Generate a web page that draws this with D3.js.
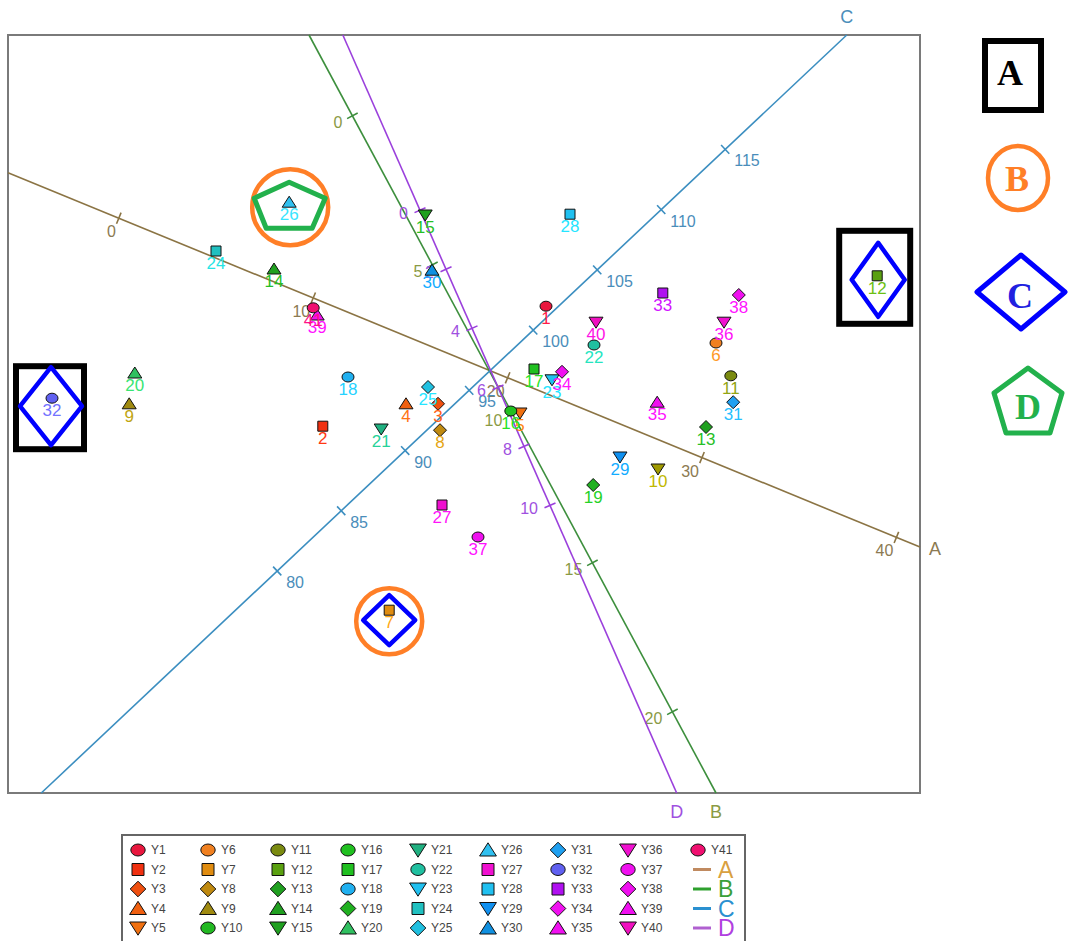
<!DOCTYPE html>
<html>
<head>
<meta charset="utf-8">
<script src="https://cdn.jsdelivr.net/npm/d3@7"></script>
<style>
  body { margin: 0; background: #fff; }
  text { font-family: "Liberation Sans", Arial, sans-serif; }
  text.serif { font-family: "Liberation Serif", "DejaVu Serif", serif; }
</style>
</head>
<body>
<svg id="chart" width="1068" height="941"></svg>
<script>
// biplot scores (origin = where the four axes cross)
const pointNames = ["Y1","Y2","Y3","Y4","Y5","Y6","Y7","Y8","Y9","Y10",
  "Y11","Y12","Y13","Y14","Y15","Y16","Y17","Y18","Y19","Y20",
  "Y21","Y22","Y23","Y24","Y25","Y26","Y27","Y28","Y29","Y30",
  "Y31","Y32","Y33","Y34","Y35","Y36","Y37","Y38","Y39","Y40","Y41"];
const pointX = [0.70, -2.09, -0.65, -1.05, 0.375, 2.825, -1.26, -0.625, -4.51, 2.10,
  3.01, 4.84, 2.70, -2.70, -0.81, 0.26, 0.55, -1.775, 1.29, -4.44,
  -1.36, 1.30, 0.775, -3.425, -0.775, -2.51, -0.60, 1.00, 1.625, -0.725,
  3.04, -5.475, 2.16, 0.90, 2.09, 2.925, -0.15, 3.11, -2.16, 1.325, -2.21];
const pointY = [0.81, -0.69, -0.41, -0.41, -0.525, 0.35, -2.99, -0.74, -0.41, -1.225,
  -0.06, 1.19, -0.70, 1.275, 1.95, -0.50, 0.025, -0.075, -1.425, -0.025,
  -0.725, 0.325, -0.11, 1.50, -0.20, 2.11, -1.675, 1.96, -1.075, 1.26,
  -0.39, -0.34, 0.975, -0.01, -0.39, 0.61, -2.075, 0.95, 0.70, 0.61, 0.79];
const pointShape = ["circle","square","diamond","up","down","circle","square","diamond","up","down",
  "circle","square","diamond","up","down","circle","square","circle","diamond","up",
  "down","circle","down","square","diamond","up","square","square","down","up",
  "diamond","circle","square","diamond","up","down","circle","diamond","up","down","circle"];
const pointColor = ["#e8173e","#f03010","#f05010","#f06010","#f07010","#f08020","#e08c10","#c08a10","#a08a10","#a09a00",
  "#7a8a10","#5aa010","#20a020","#20a020","#20a020","#20c020","#20c020","#20b0f0","#20b020","#30c060",
  "#20b080","#20c0a0","#20c0f0","#20c0c0","#20c0e0","#30c0f0","#f010d0","#20c0f0","#1090f0","#1090e0",
  "#20a0f0","#6060f0","#b010f0","#f010f0","#f010f0","#f010d0","#f010f0","#f010f0","#f010f0","#f010c0","#f01070"];
// the legend draws Y10 differently from the plot
const legendOverride = { Y10: { shape: "circle", color: "#22b822" } };

// calibrated axes: [value, x, y] of two calibration points, plus tick values
const axisNames = ["A", "B", "C", "D"];
const axisCalFrom = [[0, -4.64, 1.91], [0, -1.72, 3.19], [80, -2.66, -2.50], [0, -0.875, 2.01]];
const axisCalTo = [[40, 5.08, -2.08], [20, 2.28, -4.26], [115, 2.94, 2.77], [10, 0.75, -1.68]];
const axisTicks = [[0, 10, 20, 30, 40], [0, 5, 10, 15, 20],
  [80, 85, 90, 95, 100, 105, 110, 115], [0, 2, 4, 6, 8, 10]];

const axisColor = ["#8b7444", "#3d8f3d", "#3b8ec0", "#9b40dc"];
const axisTextColor = ["#8c7a52", "#8a9a44", "#4a8dba", "#a050e0"];
const tickLabelPos = [
  { anchor: "end", dx: -3, dy: 19 },
  { anchor: "end", dx: -10, dy: 12 },
  { anchor: "start", dx: 9, dy: 17 },
  { anchor: "end", dx: -12, dy: 9 }];
const endLabelPos = [
  { anchor: "start", dx: 9, dy: 8 },
  { anchor: "middle", dx: 0, dy: 25 },
  { anchor: "middle", dx: 0, dy: -12 },
  { anchor: "middle", dx: 0, dy: 25 }];
const legendLineColor = ["#c08a60", "#2ea02e", "#2a90d0", "#b060d0"];
const legendLetterColor = ["#d9a040", "#3aa03a", "#2a90d0", "#b040e0"];

const frame = { left: 8, top: 35, right: 920, bottom: 793 };
const x = d3.scaleLinear().domain([-6.025, 5.375]).range([frame.left, frame.right]);
const y = d3.scaleLinear().domain([-5.275, 4.2]).range([frame.bottom, frame.top]);

const svg = d3.select("#chart");

function markerPath(shape, k) {
  switch (shape) {
    case "circle": return `M${-6*k},0a${6*k},${5*k} 0 1,0 ${12*k},0a${6*k},${5*k} 0 1,0 ${-12*k},0Z`;
    case "square": return `M${-5*k},${-5*k}h${10*k}v${10*k}h${-10*k}Z`;
    case "diamond": return `M0,${-6.5*k}L${6.5*k},0L0,${6.5*k}L${-6.5*k},0Z`;
    case "up": return `M0,${-6*k}L${7*k},${5*k}L${-7*k},${5*k}Z`;
    default: return `M${-7*k},${-5*k}L${7*k},${-5*k}L0,${6*k}Z`;
  }
}

svg.append("rect")
  .attr("x", frame.left).attr("y", frame.top)
  .attr("width", frame.right - frame.left).attr("height", frame.bottom - frame.top)
  .attr("fill", "none").attr("stroke", "#7a7a7a").attr("stroke-width", 2);

// axes
axisNames.forEach((name, i) => {
  const [v0, x0, y0] = axisCalFrom[i];
  const [v1, x1, y1] = axisCalTo[i];
  const ax = d3.scaleLinear().domain([v0, v1]).range([x0, x1]);
  const ay = d3.scaleLinear().domain([v0, v1]).range([y0, y1]);
  const px = v => x(ax(v)), py = v => y(ay(v));

  // value range where the axis stays inside the frame
  const vx = x.domain().map(d => ax.invert(d)).sort(d3.ascending);
  const vy = y.domain().map(d => ay.invert(d)).sort(d3.ascending);
  const lo = Math.max(vx[0], vy[0]), hi = Math.min(vx[1], vy[1]);

  const g = svg.append("g").attr("class", "axis-" + name);
  g.append("line")
    .attr("x1", px(lo)).attr("y1", py(lo))
    .attr("x2", px(hi)).attr("y2", py(hi))
    .attr("stroke", axisColor[i]).attr("stroke-width", 1.6);

  const len = Math.hypot(px(v1) - px(v0), py(v1) - py(v0));
  const nx = -(py(v1) - py(v0)) / len, ny = (px(v1) - px(v0)) / len;

  g.selectAll(".tick").data(axisTicks[i]).enter().append("line")
    .attr("x1", d => px(d) - 6 * nx).attr("y1", d => py(d) - 6 * ny)
    .attr("x2", d => px(d) + 6 * nx).attr("y2", d => py(d) + 6 * ny)
    .attr("stroke", axisColor[i]).attr("stroke-width", 1.6);

  g.selectAll(".ticklabel").data(axisTicks[i]).enter().append("text")
    .attr("x", d => px(d) + tickLabelPos[i].dx)
    .attr("y", d => py(d) + tickLabelPos[i].dy)
    .attr("text-anchor", tickLabelPos[i].anchor)
    .attr("font-size", 16)
    .attr("fill", axisTextColor[i])
    .text(d => d);

  g.append("text")
    .attr("x", px(hi) + endLabelPos[i].dx)
    .attr("y", py(hi) + endLabelPos[i].dy)
    .attr("text-anchor", endLabelPos[i].anchor)
    .attr("font-size", 18)
    .attr("fill", axisTextColor[i])
    .text(name);
});

// points
const points = pointNames.map((n, i) => ({
  name: n, x: pointX[i], y: pointY[i], shape: pointShape[i], color: pointColor[i]
}));

const pts = svg.selectAll(".pt").data(points).enter().append("g")
  .attr("class", "pt")
  .attr("transform", d => `translate(${x(d.x)},${y(d.y)})`);

pts.append("path")
  .attr("d", d => markerPath(d.shape, 1))
  .attr("fill", d => d.color)
  .attr("stroke", "#111").attr("stroke-width", 1);

pts.append("text")
  .attr("y", 18)
  .attr("text-anchor", "middle")
  .attr("font-size", 17)
  .attr("fill", d => d3.color(d.color).brighter(0.5))
  .text(d => d.name.slice(1));

// highlight marks around selected points
const byName = Object.fromEntries(points.map(d => [d.name, d]));
const ann = svg.append("g").attr("fill", "none");

function diamond(cx, cy, hw, hh) {
  return `M${cx},${cy - hh}L${cx + hw},${cy}L${cx},${cy + hh}L${cx - hw},${cy}Z`;
}
function pentagon(cx, cy, s) {
  const v = [[0, -25], [36, -9], [23, 21], [-23, 21], [-35, -9]];
  return "M" + v.map(p => [cx + p[0] * s, cy + p[1] * s].join(",")).join("L") + "Z";
}

[["Y32", -2, 9.5, 37, 44.5, -1, 8, 31, 39], ["Y12", -2.5, 1.5, 38.5, 49.5, 1, 4, 26.5, 37]]
  .forEach(([n, bx, by, bw, bh, dx, dy, hw, hh]) => {
    const cx = x(byName[n].x), cy = y(byName[n].y);
    ann.append("rect")
      .attr("x", cx + bx - bw + 3).attr("y", cy + by - bh + 3)
      .attr("width", 2 * bw - 6).attr("height", 2 * bh - 6)
      .attr("stroke", "#000").attr("stroke-width", 6);
    ann.append("path").attr("d", diamond(cx + dx, cy + dy, hw, hh))
      .attr("stroke", "#0000ff").attr("stroke-width", 4.5).attr("stroke-linejoin", "round");
  });

{
  const cx = x(byName.Y26.x), cy = y(byName.Y26.y) + 5;
  ann.append("circle").attr("cx", cx + 1).attr("cy", cy).attr("r", 38)
    .attr("stroke", "#ff7f27").attr("stroke-width", 4.5);
  ann.append("path").attr("d", pentagon(cx, cy, 1))
    .attr("stroke", "#22b14c").attr("stroke-width", 5).attr("stroke-linejoin", "round");
}
{
  const cx = x(byName.Y7.x), cy = y(byName.Y7.y) + 11;
  ann.append("circle").attr("cx", cx).attr("cy", cy).attr("r", 33)
    .attr("stroke", "#ff7f27").attr("stroke-width", 4.5);
  ann.append("path").attr("d", diamond(cx, cy - 1, 26, 25))
    .attr("stroke", "#0000ff").attr("stroke-width", 4.5).attr("stroke-linejoin", "round");
}

// key on the right
const key = svg.append("g").attr("fill", "none");
key.append("rect").attr("x", 985).attr("y", 41).attr("width", 56).attr("height", 69)
  .attr("stroke", "#000").attr("stroke-width", 6);
key.append("ellipse").attr("cx", 1018).attr("cy", 178).attr("rx", 30).attr("ry", 32)
  .attr("stroke", "#ff7f27").attr("stroke-width", 4.5);
key.append("path").attr("d", diamond(1021, 292, 44, 37))
  .attr("stroke", "#0000ff").attr("stroke-width", 5).attr("stroke-linejoin", "round");
key.append("path").attr("d", "M1028,368L1062,393L1050,433L1006,433L994,393Z")
  .attr("stroke", "#22b14c").attr("stroke-width", 5).attr("stroke-linejoin", "round");
[["A", 1010, 85, "#000"], ["B", 1017, 191, "#ff7f27"], ["C", 1020, 308, "#2020e0"], ["D", 1028, 419, "#22b14c"]]
  .forEach(([t, tx, ty, c]) => {
    key.append("text").attr("class", "serif")
      .attr("x", tx).attr("y", ty).attr("text-anchor", "middle")
      .attr("font-weight", "bold").attr("font-size", 36).attr("fill", c).text(t);
  });

// legend box
const leg = svg.append("g");
leg.append("rect").attr("x", 122).attr("y", 835).attr("width", 623).attr("height", 112)
  .attr("fill", "#fff").attr("stroke", "#666").attr("stroke-width", 2);

const colX = d3.scalePoint().domain(d3.range(9)).range([138, 698]);
const rowY = d3.scalePoint().domain(d3.range(5)).range([850, 928]);

const legItems = leg.selectAll(".li").data(points).enter().append("g")
  .attr("transform", (d, i) => `translate(${colX(Math.floor(i / 5))},${rowY(i % 5)})`);
legItems.append("path")
  .attr("d", d => markerPath((legendOverride[d.name] || d).shape, 1.2))
  .attr("fill", d => (legendOverride[d.name] || d).color)
  .attr("stroke", "#111").attr("stroke-width", 1);
legItems.append("text")
  .attr("x", 13).attr("y", 4)
  .attr("font-size", 12).attr("fill", "#444")
  .text(d => d.name);

axisNames.forEach((name, i) => {
  const cx = colX(8), cy = rowY(i + 1);
  leg.append("line").attr("x1", cx - 5).attr("x2", cx + 13).attr("y1", cy).attr("y2", cy)
    .attr("stroke", legendLineColor[i]).attr("stroke-width", 3);
  leg.append("text").attr("x", cx + 20).attr("y", cy + 8)
    .attr("font-size", 23).attr("fill", legendLetterColor[i]).text(name);
});
</script>
</body>
</html>
